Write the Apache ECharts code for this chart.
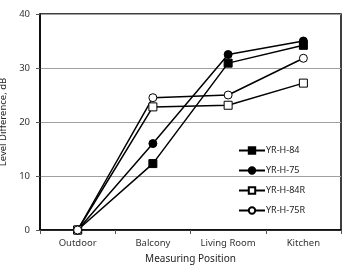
<!DOCTYPE html>
<html>
<head>
<meta charset="utf-8">
<script src="https://cdn.jsdelivr.net/npm/echarts@6/dist/echarts.min.js"></script>
<style>
  html, body { margin: 0; padding: 0; background: #fff; }
  #main { width: 346px; height: 266px; }
</style>
</head>
<body>
<div id="main"></div>
<script>
// measuring positions
var positions = ['Outdoor', 'Balcony', 'Living Room', 'Kitchen'];
var seriesNames = ['YR-H-84', 'YR-H-75', 'YR-H-84R', 'YR-H-75R'];
// level difference, dB
var yrH84 = [0, 12.3, 30.9, 34.2];
var yrH75 = [0, 16.0, 32.5, 35.0];
var yrH84R = [0, 22.8, 23.1, 27.2];
var yrH75R = [0, 24.5, 25.0, 31.8];
var yTicks = [0, 10, 20, 30, 40];

var font = 'Noto Sans';
var chart = echarts.init(document.getElementById('main'));

function mkSeries(name, data, symbol, filled) {
    return {
        name: name,
        type: 'line',
        data: data,
        symbol: symbol,
        symbolSize: 8,
        showAllSymbol: true,
        lineStyle: { color: '#000', width: 1.5 },
        itemStyle: { color: filled ? '#000' : '#fff', borderColor: '#000', borderWidth: 1 },
        z: 3
    };
}

chart.setOption({
    animation: false,
    grid: { left: 40, right: 5, top: 14, bottom: 36, outerBoundsMode: 'none', show: true, borderColor: '#000', borderWidth: 1.5, backgroundColor: 'transparent' },
    legend: {
        orient: 'vertical',
        left: 233,
        top: 141,
        itemGap: 11,
        itemWidth: 26,
        itemHeight: 8,
        data: seriesNames,
        textStyle: { fontFamily: font, fontSize: 9, color: '#222', padding: [0, 0, 0, -4] }
    },
    xAxis: {
        type: 'category',
        data: positions,
        boundaryGap: true,
        name: 'Measuring Position',
        nameLocation: 'middle',
        nameGap: 24,
        nameTextStyle: { fontFamily: font, fontSize: 10, color: '#222' },
        axisLine: { lineStyle: { color: '#000', width: 1.5 } },
        axisTick: { show: true, inside: false, length: 4, lineStyle: { color: '#555' } },
        axisLabel: { fontFamily: font, fontSize: 9.5, color: '#333', margin: 8 },
        splitLine: { show: false }
    },
    yAxis: {
        type: 'value',
        min: yTicks[0],
        max: yTicks[yTicks.length - 1],
        interval: 10,
        name: 'Level Difference, dB',
        nameLocation: 'middle',
        nameGap: 29,
        nameTextStyle: { fontFamily: font, fontSize: 9.5, color: '#222' },
        axisLine: { show: true, lineStyle: { color: '#000', width: 1.5 } },
        axisTick: { show: true, length: 4, lineStyle: { color: '#555' } },
        axisLabel: { fontFamily: font, fontSize: 9.5, color: '#333', margin: 10 },
        splitLine: { show: true, lineStyle: { color: '#a0a0a0', width: 1 } }
    },
    series: [
        mkSeries(seriesNames[0], yrH84, 'rect', true),
        mkSeries(seriesNames[1], yrH75, 'circle', true),
        mkSeries(seriesNames[2], yrH84R, 'rect', false),
        mkSeries(seriesNames[3], yrH75R, 'circle', false)
    ]
});
</script>
</body>
</html>
